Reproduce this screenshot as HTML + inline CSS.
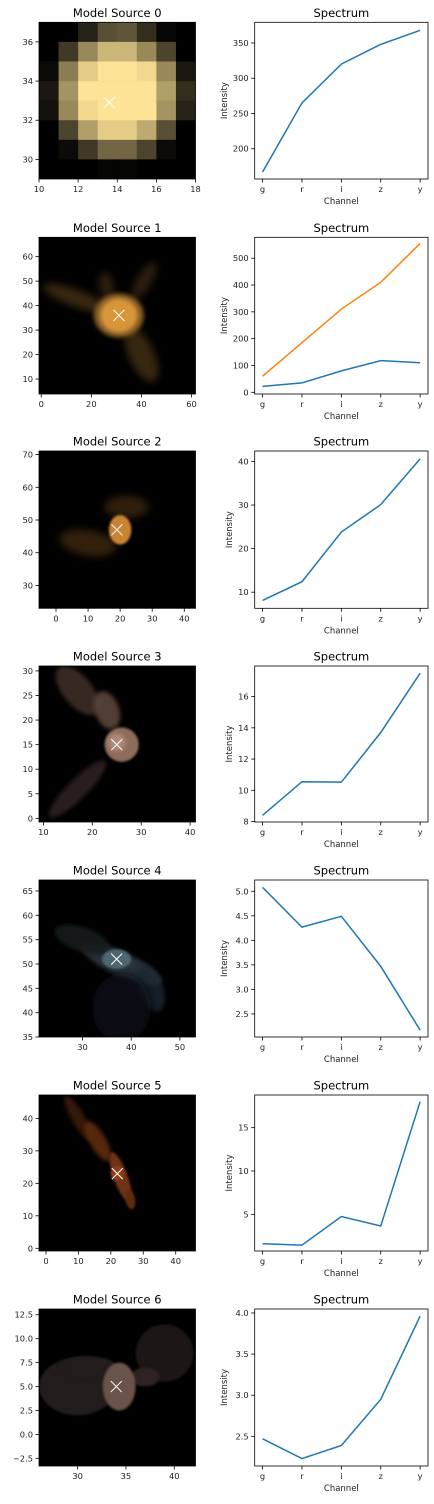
<!DOCTYPE html>
<html><head><meta charset="utf-8"><style>
html,body{margin:0;padding:0;background:#fff}
svg{display:block;font-family:"DejaVu Sans","Liberation Sans",sans-serif}
</style></head><body>
<svg id="fig" width="434" height="1504" viewBox="0 0 434 1504" xmlns="http://www.w3.org/2000/svg">
<defs>
<filter id="b1" x="-50%" y="-50%" width="200%" height="200%"><feGaussianBlur stdDeviation="1"/></filter>
<filter id="b2" x="-50%" y="-50%" width="200%" height="200%"><feGaussianBlur stdDeviation="2"/></filter>
<filter id="b4" x="-50%" y="-50%" width="200%" height="200%"><feGaussianBlur stdDeviation="4"/></filter>
</defs>
</svg>
<script>
// ---- chart data ----
const channels = ["g","r","i","z","y"];
const spec0 = [167, 265, 320, 348, 368];
const spec1a = [22, 35, 80, 118, 110];
const spec1b = [60, 185, 310, 410, 555];
const spec2 = [8.1, 12.4, 23.8, 30.1, 40.6];
const spec3 = [8.4, 10.55, 10.52, 13.7, 17.5];
const spec4 = [5.08, 4.27, 4.49, 3.47, 2.17];
const spec5 = [1.6, 1.45, 4.75, 3.65, 18.0];
const spec6 = [2.47, 2.23, 2.39, 2.95, 3.96];
const yTicks0 = [200, 250, 300, 350];
const yTicks1 = [0, 100, 200, 300, 400, 500];
const yTicks2 = [10, 20, 30, 40];
const yTicks3 = [8, 10, 12, 14, 16];
const yTicks4 = [2.5, 3.0, 3.5, 4.0, 4.5, 5.0];
const yTicks5 = [5, 10, 15];
const yTicks6 = [2.5, 3.0, 3.5, 4.0];
const yRange0 = [157.1, 379.3];
const yRange1 = [-6.3, 578];
const yRange2 = [6.3, 42.4];
const yRange3 = [7.97, 17.96];
const yRange4 = [2.03, 5.23];
const yRange5 = [0.77, 18.77];
const yRange6 = [2.14, 4.048];
// image extents [x0,x1,y0,y1], ticks and source centers
const imgExt = [[10,18,29,37],[-0.9,61.6,3.9,67.9],[-5.3,43.5,23.0,71.1],[9.1,41.1,-0.74,31.0],[21.05,53.2,35,67.26],[-2.15,46.1,-0.83,47.2],[26.0,42.2,-3.3,13.1]];
const imgXTicks = [[10,12,14,16,18],[0,20,40,60],[0,10,20,30,40],[10,20,30,40],[30,40,50],[0,10,20,30,40],[30,35,40]];
const imgYTicks = [[30,32,34,36],[10,20,30,40,50,60],[30,40,50,60,70],[0,5,10,15,20,25,30],[35,40,45,50,55,60,65],[0,10,20,30,40],[-2.5,0.0,2.5,5.0,7.5,10.0,12.5]];
const centers = [[13.6,32.9],[31,36],[19,47],[25,15],[37,51],[22,23],[34,5]];
// row0 pixel brightness grid (top row = y 36..37), x 10..17
const grid0 = [
[0,0,.15,.35,.38,.2,.03,0],
[0,.25,.6,.8,.8,.6,.3,0],
[.05,.55,.9,1,1,.95,.6,.1],
[.1,.65,1,1,1,1,.7,.2],
[.08,.6,.95,1,1,1,.65,.15],
[0,.3,.7,.9,.9,.75,.35,0],
[0,.05,.25,.45,.45,.3,.05,0],
[0,0,0,.02,.02,0,0,0]];

const specs = [[spec0],[spec1a,spec1b],[spec2],[spec3],[spec4],[spec5],[spec6]];
const yTicks = [yTicks0,yTicks1,yTicks2,yTicks3,yTicks4,yTicks5,yTicks6];
const yRanges = [yRange0,yRange1,yRange2,yRange3,yRange4,yRange5,yRange6];
const rowOff = [0,215,430,645,860,1075,1289];
const rowBox = [[22.3,179],[22.3,179],[21,178.3],[21,177],[20,177],[20,176],[20,177]];
const colors = ["#1f77b4","#ff7f0e"];

const NS="http://www.w3.org/2000/svg";
const svg=document.getElementById('fig');
function mk(tag,attrs,parent){const e=document.createElementNS(NS,tag);for(const k in attrs)e.setAttribute(k,attrs[k]);(parent||svg).appendChild(e);return e;}
function fmt(v,dec){return dec?v.toFixed(1).replace('-','\u2212'):String(v).replace('-','\u2212');}

const IL=39, IR=195.5, SL=254.7, SR=428;
const TF=8.3, LF=8.5, HF=11.5;

for(let r=0;r<7;r++){
  const off=rowOff[r], T=off+rowBox[r][0], B=off+rowBox[r][1];
  // ---------- image panel ----------
  const gI=mk('g',{});
  
  
  const ext=imgExt[r];
  const sx=v=>IL+(v-ext[0])/(ext[1]-ext[0])*(IR-IL);
  const sy=v=>B-(v-ext[2])/(ext[3]-ext[2])*(B-T);
  const clipId='clip'+r;
  const cp=mk('clipPath',{id:clipId},gI);mk('rect',{x:IL,y:T,width:IR-IL,height:B-T},cp);
  mk('rect',{x:IL,y:T,width:IR-IL,height:B-T,fill:'#000'},gI);
  const gImg=mk('g',{'clip-path':'url(#'+clipId+')'},gI);
  
  
  const E=(cx,cy,rx,ry,col,op,filt,rot)=>{const e=mk('ellipse',{cx:sx(cx),cy:sy(cy),rx:Math.abs(sx(cx+rx)-sx(cx)),ry:Math.abs(sy(cy+ry)-sy(cy)),fill:col,opacity:op,filter:filt?'url(#'+filt+')':''},gImg);if(rot)e.setAttribute('transform','rotate('+rot+' '+sx(cx)+' '+sy(cy)+')');return e;};
  if(r===0){
    for(let i=0;i<8;i++)for(let j=0;j<8;j++){const b=grid0[i][j];
      mk('rect',{x:sx(10+j),y:sy(37-i),width:sx(11)-sx(10)+0.3,height:sy(36)-sy(37)+0.3,fill:`rgb(${Math.round(253*b)},${Math.round(227*b)},${Math.round(150*b)})`},gImg);}
  } else if(r===1){
    E(14,43,14,3.5,'#4a3416',0.75,'b4',20);
    E(40,20,5,12,'#4a3416',0.75,'b4',-25);
    E(41,50,3,9,'#3e2c12',0.7,'b4',30);
    E(26,48,3,6,'#3e2c12',0.7,'b4',-10);
    E(31,36,10,9,'#8a6026',0.95,'b2');
    E(31,36,7.5,7,'#d8963a',1,'b2');
  } else if(r===2){
    E(10,43,9,4,'#3a280e',0.85,'b4',10);
    E(22,54,7,3.5,'#3a280e',0.8,'b4');
    E(20,47,3.5,4.5,'#c88430',1,'b1');
  } else if(r===3){
    E(17,26,3,6,'#3c2e28',0.9,'b2',-40);
    E(23,22,2.5,4,'#5a443a',0.9,'b2',-20);
    E(17,6,2,8,'#2e2420',0.9,'b2',45);
    E(26,15,3.5,3.5,'#8e6c5c',1,'b1');
    E(25,15.5,1.8,1.8,'#b08878',1,'b2');
  } else if(r===4){
    E(38,50,9,2.5,'#2a363e',0.95,'b2',25);
    E(44,45,2.5,5,'#1e2830',0.8,'b2',-20);
    E(38,41,6,7,'#0c1012',0.9,'b4');
    E(30,55,6,2.5,'#141a1e',0.9,'b2',20);
    E(37,51,3,2,'#506670',1,'b1');
  } else if(r===5){
    E(10,40,2,8,'#3a1a0a',0.9,'b2',-30);
    E(16,33,2.5,7,'#5a2a10',0.95,'b2',-30);
    E(23,22,2.2,8,'#6e3214',1,'b1',-20);
    E(26,15,1.5,3,'#5e2a10',1,'b1',-10);
    E(22,23,2,2.2,'#903e1a',1,'b1');
  } else if(r===6){
    E(30,5,4,3,'#241c1a',1,'b1');
    E(31,7,3,1.2,'#241c1a',1,'b1');
    E(39,8.5,3,3,'#1c1614',1,'b1');
    E(37,6,1.5,1,'#2e2220',1,'b1');
    E(34.3,5,1.7,2.5,'#6a524c',1,'b1');
  }
  // marker
  const c=centers[r], mx=sx(c[0]), my=sy(c[1]), h=5.5;
  const mkr=mk('path',{d:`M${mx-h},${my-h}L${mx+h},${my+h}M${mx-h},${my+h}L${mx+h},${my-h}`,stroke:'#fff','stroke-width':1},gI);
  
  
  mk('rect',{x:IL,y:T,width:IR-IL,height:B-T,fill:'none',stroke:'#000','stroke-width':0.8},gI);
  imgXTicks[r].forEach(v=>{const x=sx(v);mk('line',{x1:x,x2:x,y1:B,y2:B+3.5,stroke:'#000','stroke-width':0.8},gI);
    const t=mk('text',{x:x,y:B+13,'font-size':TF,'text-anchor':'middle',fill:'#222'},gI);t.textContent=fmt(v);
    
    });
  const dec=(r===6);
  imgYTicks[r].forEach(v=>{const y=sy(v);mk('line',{x1:IL-3.5,x2:IL,y1:y,y2:y,stroke:'#000','stroke-width':0.8},gI);
    const t=mk('text',{x:IL-6,y:y+3,'font-size':TF,'text-anchor':'end',fill:'#222'},gI);t.textContent=fmt(v,dec);
    
    });
  const ti=mk('text',{x:(IL+IR)/2,y:T-5.5,'font-size':HF,'text-anchor':'middle',fill:'#000'},gI);ti.textContent='Model Source '+r;
  
  

  // ---------- spectrum panel ----------
  const gS=mk('g',{});
  
  
  const yr=yRanges[r];
  const px=i=>SL+(i+0.2)/4.4*(SR-SL);
  const py=v=>B-(v-yr[0])/(yr[1]-yr[0])*(B-T);
  specs[r].forEach((s,k)=>{
    const d=s.map((v,i)=>(i?'L':'M')+px(i).toFixed(2)+','+py(v).toFixed(2)).join('');
    const p=mk('path',{d:d,fill:'none',stroke:colors[k],'stroke-width':1.5},gS);
    
    
  });
  mk('rect',{x:SL,y:T,width:SR-SL,height:B-T,fill:'none',stroke:'#000','stroke-width':0.8},gS);
  channels.forEach((ch,i)=>{const x=px(i);mk('line',{x1:x,x2:x,y1:B,y2:B+3.5,stroke:'#000','stroke-width':0.8},gS);
    const t=mk('text',{x:x,y:B+13,'font-size':TF,'text-anchor':'middle',fill:'#222'},gS);t.textContent=ch;
    
    });
  const sdec=(r===4||r===6);
  yTicks[r].forEach(v=>{const y=py(v);mk('line',{x1:SL-3.5,x2:SL,y1:y,y2:y,stroke:'#000','stroke-width':0.8},gS);
    const t=mk('text',{x:SL-6,y:y+3,'font-size':TF,'text-anchor':'end',fill:'#222'},gS);t.textContent=fmt(v,sdec);
    
    });
  const xl=mk('text',{x:(SL+SR)/2,y:B+25,'font-size':LF,'text-anchor':'middle',fill:'#222'},gS);xl.textContent='Channel';
  
  
  const maxLen=Math.max(...yTicks[r].map(v=>fmt(v,sdec).length));
  const ylx=SL-6-maxLen*5.3-6;
  const yl=mk('text',{x:ylx,y:(T+B)/2,'font-size':LF,'text-anchor':'middle',fill:'#222',transform:`rotate(-90 ${ylx} ${(T+B)/2})`},gS);yl.textContent='Intensity';
  
  
  const ts=mk('text',{x:(SL+SR)/2,y:T-5.5,'font-size':HF,'text-anchor':'middle',fill:'#000'},gS);ts.textContent='Spectrum';
  
  
}
</script>
</body></html>
